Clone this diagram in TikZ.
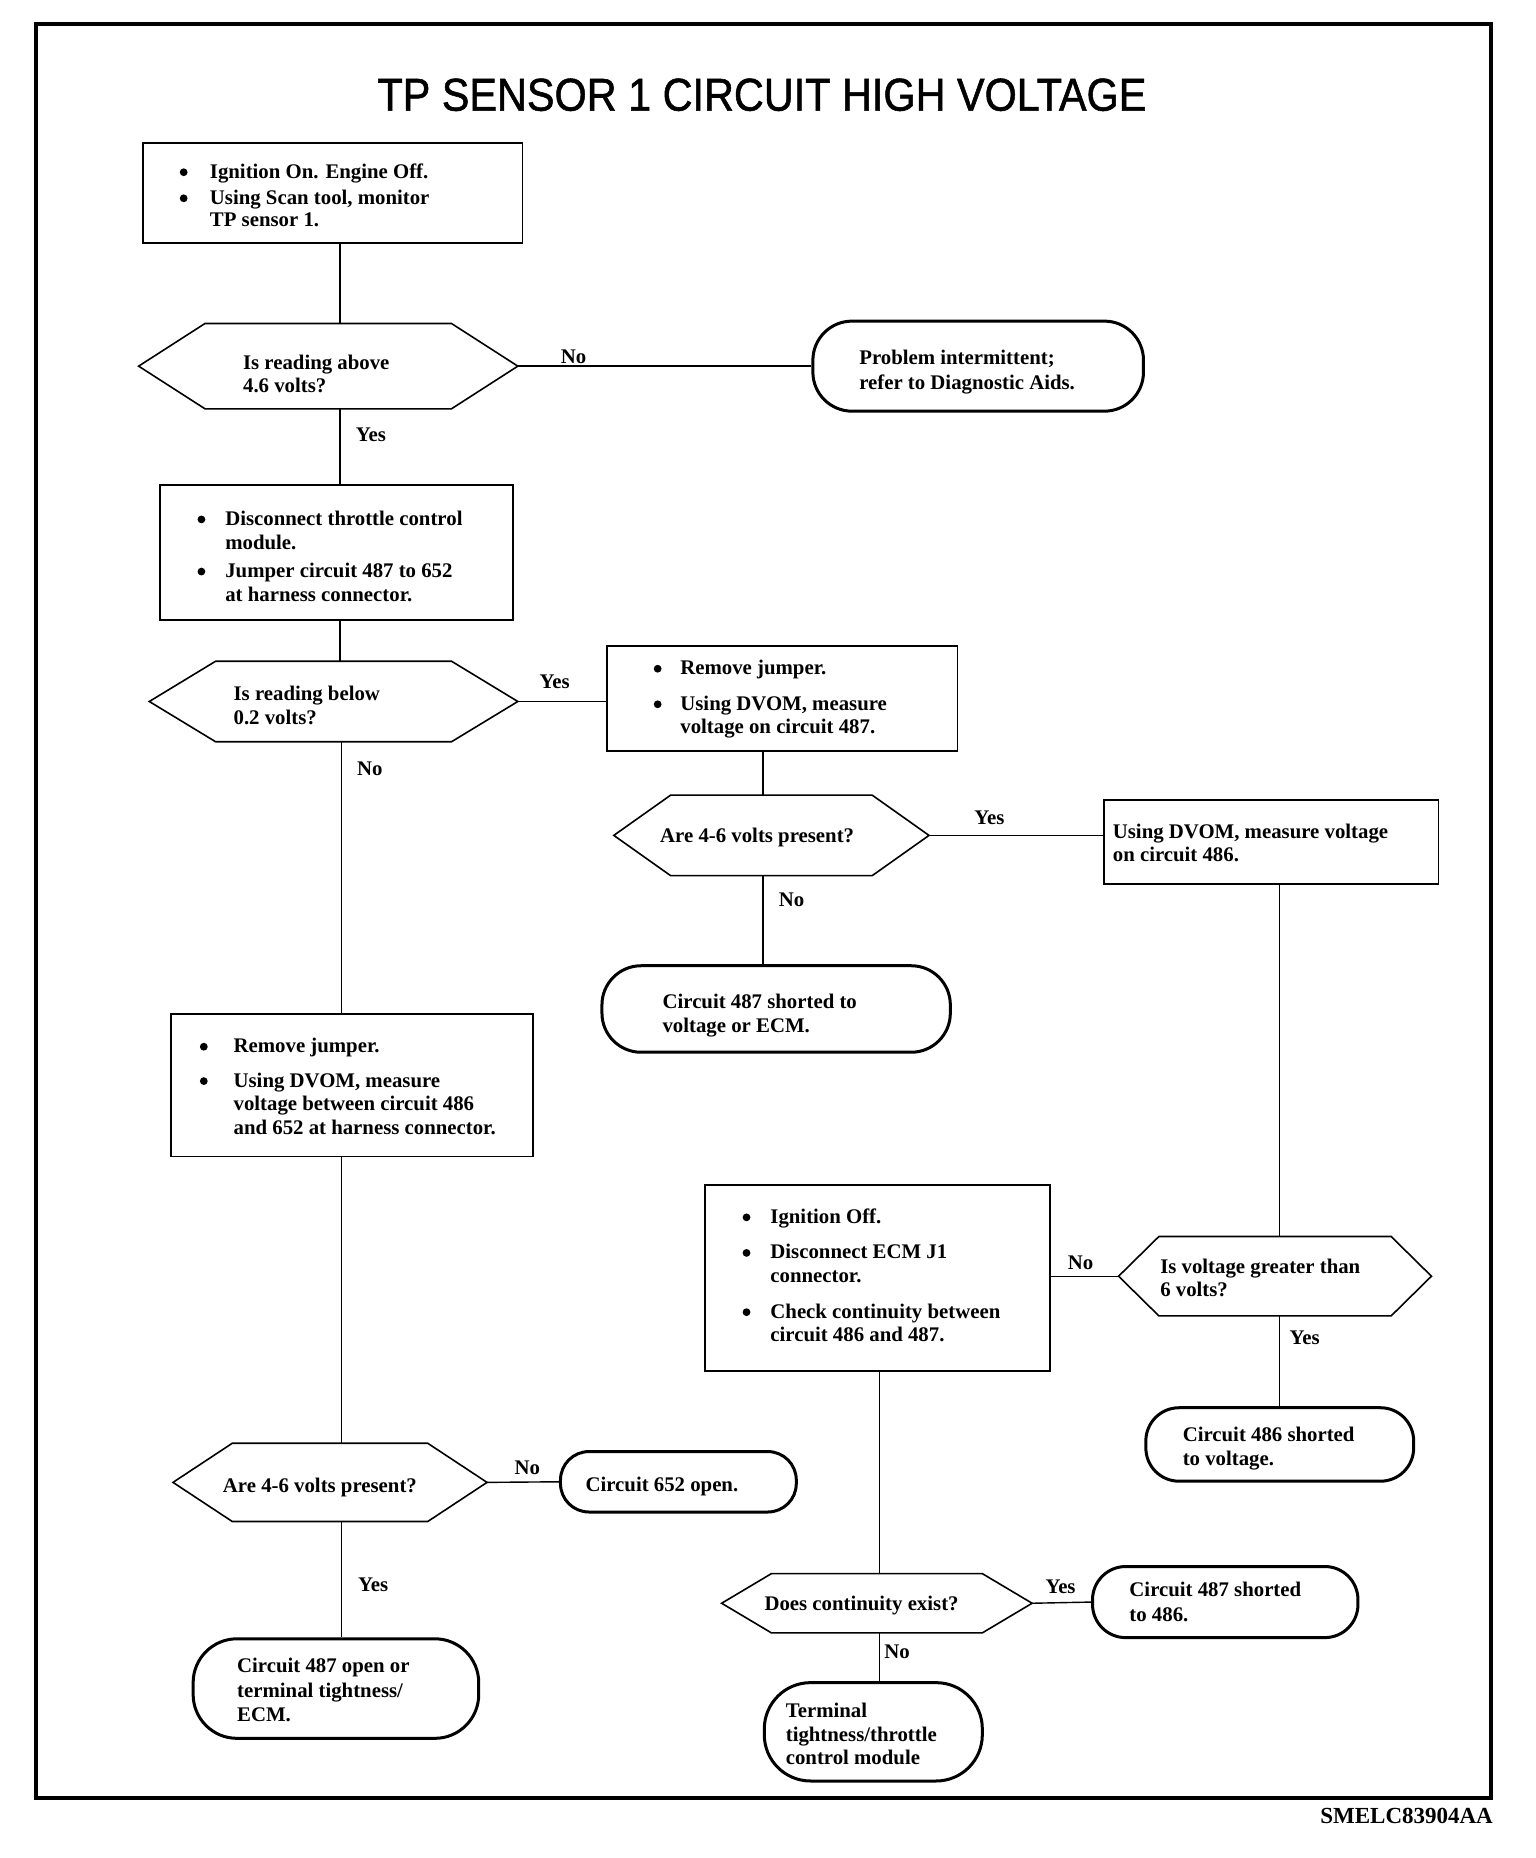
\documentclass[tikz,border=0pt]{standalone}
\usepackage{fontspec}
\usepackage{graphicx}
\setmainfont{Liberation Serif}
\newfontfamily\titlefont{Liberation Sans}[FakeBold=1.2]
\usetikzlibrary{calc}
\newcommand\hexoutline[2]{\draw[hexline] (#1.west) -- ($(#1.north west)+(#2,0)$) -- ($(#1.north east)+(-#2,0)$) -- (#1.east) -- ($(#1.south east)+(-#2,0)$) -- ($(#1.south west)+(#2,0)$) -- cycle;}
\begin{document}
\begin{tikzpicture}[x=1.1852pt,y=-1.1852pt,
  boxst/.style 2 args={draw,line width=1.8pt,minimum width={#1*1.1852pt},minimum height={#2*1.1852pt},inner sep=0pt},
  termst/.style n args={3}{draw,line width=3pt,rounded corners={#3*1.1852pt},minimum width={#1*1.1852pt},minimum height={#2*1.1852pt},inner sep=0pt},
  hexst/.style 2 args={minimum width={#1*1.1852pt},minimum height={#2*1.1852pt},inner sep=0pt,outer sep=0pt},
  hexline/.style={line width=1.6pt,line join=miter},
  conn/.style={line width=1.4pt},
  txt/.style={font=\bfseries\fontsize{20.8}{23.7}\selectfont,inner sep=0pt,anchor=mid west,yshift=-5.3pt},
  bul/.style={circle,fill,inner sep=0pt,minimum size=7.8pt,yshift=-1.6pt},
  lab/.style={font=\bfseries\fontsize{20.8}{23.7}\selectfont,inner sep=0pt,anchor=mid,yshift=-5.3pt}]
\useasboundingbox (0,0) rectangle (1296,1568);
% frame
\node[draw,line width=4pt,minimum width={1228*1.1852pt},minimum height={1497*1.1852pt},inner sep=0pt] (frame) at (644,768.5) {};
\node[font=\bfseries\fontsize{23}{26}\selectfont,inner sep=0pt,anchor=mid east,yshift=-4.5pt] (code) at (1260,1533) {SMELC83904AA};
\node[inner sep=0pt] (title) at (643,80) {\scalebox{0.9}[1]{\titlefont\fontsize{46}{50}\selectfont TP SENSOR 1 CIRCUIT HIGH VOLTAGE}};

% shapes
\node[boxst={320}{84}] (box1) at (281,163) {};
\node[hexst={320}{72}] (hex1) at (277,309) {};
\hexoutline{hex1}{56}
\node[termst={279}{76}{33}] (term1) at (825.5,309) {};
\node[boxst={298}{114}] (box2) at (284,466) {};
\node[hexst={311}{68}] (hex2) at (281.5,592) {};
\hexoutline{hex2}{56}
\node[boxst={296}{89}] (box3) at (660,589.5) {};
\node[hexst={266}{68}] (hex3) at (651,705) {};
\hexoutline{hex3}{48}
\node[boxst={282}{71}] (box4) at (1073,710.5) {};
\node[termst={294}{73}{33}] (term2) at (655,851.5) {};
\node[boxst={306}{120}] (box5) at (297,916) {};
\node[boxst={291}{157}] (box6) at (740.5,1078.5) {};
\node[hexst={264}{67}] (hex5) at (1076,1077) {};
\hexoutline{hex5}{34}
\node[termst={226}{62}{28}] (term5) at (1080,1219) {};
\node[hexst={265}{66}] (hex4) at (278.5,1251) {};
\hexoutline{hex4}{50}
\node[termst={199}{51}{24}] (term3) at (572.5,1250.5) {};
\node[termst={241}{84}{37}] (term4) at (283.5,1425) {};
\node[hexst={262}{50}] (hex6) at (740,1353) {};
\hexoutline{hex6}{42}
\node[termst={224}{60}{28}] (term6) at (1034,1352) {};
\node[termst={184}{83}{39}] (term7) at (737,1461.5) {};

% columns
\coordinate (cA) at (287,0);
\coordinate (cB) at (288,0);
\coordinate (cC) at (644,0);
\coordinate (cD) at (1080,0);
\coordinate (cE) at (742,0);

% connectors
\draw[conn] (box1.south -| cA) -- (hex1.north -| cA);
\draw[conn] (hex1.east) -- (term1.west);
\draw[conn] (hex1.south -| cA) -- (box2.north -| cA);
\draw[conn] (box2.south -| cA) -- (hex2.north -| cA);
\draw[conn] (hex2.east) -- (hex2.east -| box3.west);
\draw[conn] (hex2.south -| cB) -- (box5.north -| cB);
\draw[conn] (box3.south -| cC) -- (hex3.north -| cC);
\draw[conn] (hex3.east) -- (hex3.east -| box4.west);
\draw[conn] (hex3.south -| cC) -- (term2.north -| cC);
\draw[conn] (box5.south -| cB) -- (hex4.north -| cB);
\draw[conn] (hex4.east) -- (term3.west);
\draw[conn] (hex4.south -| cB) -- (term4.north -| cB);
\draw[conn] (box4.south -| cD) -- (hex5.north -| cD);
\draw[conn] (hex5.west) -- (hex5.west -| box6.east);
\draw[conn] (hex5.south -| cD) -- (term5.north -| cD);
\draw[conn] (box6.south -| cE) -- (hex6.north -| cE);
\draw[conn] (hex6.east) -- (term6.west);
\draw[conn] (hex6.south -| cE) -- (term7.north -| cE);

% branch labels
\node[lab] (l1) at (484,300) {No};
\node[lab] (l2) at (313,366) {Yes};
\node[lab] (l3) at (468,575) {Yes};
\node[lab] (l4) at (312,648) {No};
\node[lab] (l5) at (835,689) {Yes};
\node[lab] (l6) at (668,759) {No};
\node[lab] (l7) at (445,1238) {No};
\node[lab] (l8) at (315,1337) {Yes};
\node[lab] (l9) at (912,1065) {No};
\node[lab] (l10) at (1101,1128) {Yes};
\node[lab] (l11) at (895,1338) {Yes};
\node[lab] (l12) at (757,1393) {No};

% box1 text
\node[bul] (b1d1) at (155,144) {};
\node[txt] (b1t1) at (177,144) {Ignition On. Engine Off.};
\node[bul] (b1d2) at (155,166) {};
\node[txt] (b1t2) at (177,166) {Using Scan tool, monitor};
\node[txt] (b1t3) at (177,185) {TP sensor 1.};
% hex1
\node[txt] (h1t1) at (205,305) {Is reading above};
\node[txt] (h1t2) at (205,325) {4.6 volts?};
% term1
\node[txt] (t1t1) at (725,301) {Problem intermittent;};
\node[txt] (t1t2) at (725,322) {refer to Diagnostic Aids.};
% box2
\node[bul] (b2d1) at (170,437) {};
\node[txt] (b2t1) at (190,437) {Disconnect throttle control};
\node[txt] (b2t2) at (190,457) {module.};
\node[bul] (b2d2) at (170,481) {};
\node[txt] (b2t3) at (190,481) {Jumper circuit 487 to 652};
\node[txt] (b2t4) at (190,501) {at harness connector.};
% hex2
\node[txt] (h2t1) at (197,585) {Is reading below};
\node[txt] (h2t2) at (197,605) {0.2 volts?};
% box3
\node[bul] (b3d1) at (555,563) {};
\node[txt] (b3t1) at (574,563) {Remove jumper.};
\node[bul] (b3d2) at (555,593) {};
\node[txt] (b3t2) at (574,593) {Using DVOM, measure};
\node[txt] (b3t3) at (574,613) {voltage on circuit 487.};
% hex3
\node[txt] (h3t1) at (557,705) {Are 4-6 volts present?};
% box4
\node[txt] (b4t1) at (939,701) {Using DVOM, measure voltage};
\node[txt] (b4t2) at (939,721) {on circuit 486.};
% term2
\node[txt] (t2t1) at (559,845) {Circuit 487 shorted to};
\node[txt] (t2t2) at (559,865) {voltage or ECM.};
% box5
\node[bul] (b5d1) at (172,882) {};
\node[txt] (b5t1) at (197,882) {Remove jumper.};
\node[bul] (b5d2) at (172,911) {};
\node[txt] (b5t2) at (197,911) {Using DVOM, measure};
\node[txt] (b5t3) at (197,931) {voltage between circuit 486};
\node[txt] (b5t4) at (197,951) {and 652 at harness connector.};
% box6
\node[bul] (b6d1) at (630,1026) {};
\node[txt] (b6t1) at (650,1026) {Ignition Off.};
\node[bul] (b6d2) at (630,1056) {};
\node[txt] (b6t2) at (650,1056) {Disconnect ECM J1};
\node[txt] (b6t3) at (650,1076) {connector.};
\node[bul] (b6d3) at (630,1106) {};
\node[txt] (b6t4) at (650,1106) {Check continuity between};
\node[txt] (b6t5) at (650,1126) {circuit 486 and 487.};
% hex5
\node[txt] (h5t1) at (979,1068) {Is voltage greater than};
\node[txt] (h5t2) at (979,1088) {6 volts?};
% term5
\node[txt] (t5t1) at (998,1210) {Circuit 486 shorted};
\node[txt] (t5t2) at (998,1230) {to voltage.};
% hex4
\node[txt] (h4t1) at (188,1253) {Are 4-6 volts present?};
% term3
\node[txt] (t3t1) at (494,1252) {Circuit 652 open.};
% term4
\node[txt] (t4t1) at (200,1405) {Circuit 487 open or};
\node[txt] (t4t2) at (200,1426) {terminal tightness/};
\node[txt] (t4t3) at (200,1446) {ECM.};
% hex6
\node[txt] (h6t1) at (645,1353) {Does continuity exist?};
% term6
\node[txt] (t6t1) at (953,1341) {Circuit 487 shorted};
\node[txt] (t6t2) at (953,1362) {to 486.};
% term7
\node[txt] (t7t1) at (663,1443) {Terminal};
\node[txt] (t7t2) at (663,1463) {tightness/throttle};
\node[txt] (t7t3) at (663,1483) {control module};
\end{tikzpicture}
\end{document}
